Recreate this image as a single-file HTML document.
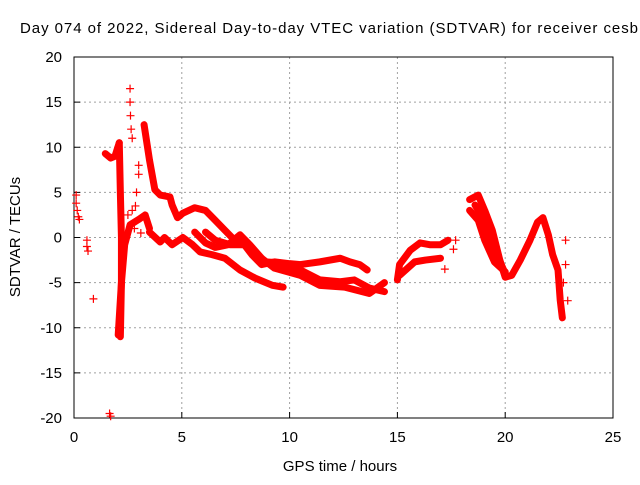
<!DOCTYPE html>
<html><head><meta charset="utf-8"><style>
body{margin:0;background:#fff}
svg text{font-family:"Liberation Sans",sans-serif;font-size:15px;fill:#000}
</style></head><body>
<svg id="chart" width="640" height="480" viewBox="0 0 640 480" xmlns="http://www.w3.org/2000/svg">
<rect width="640" height="480" fill="#fff"/>
<text x="20" y="33" textLength="618" lengthAdjust="spacing">Day 074 of 2022, Sidereal Day-to-day VTEC variation (SDTVAR) for receiver cesb</text>
<g id="grid"></g>
<g id="axes"></g>
<g id="series"></g>
<text x="340" y="471" text-anchor="middle">GPS time / hours</text>
<text transform="translate(20,237) rotate(-90)" text-anchor="middle">SDTVAR / TECUs</text>
</svg>
<script>
const xTicks=[0,5,10,15,20,25];
const yTicks=[-20,-15,-10,-5,0,5,10,15,20];
const trackA=[[3.25,12.5],[3.5,8.6],[3.75,5.3],[4.0,4.7],[4.45,4.5],[4.55,3.6],[4.8,2.2],[5.05,2.7],[5.6,3.3],[6.1,3.0],[6.55,1.9],[7.0,0.8],[7.45,-0.3],[7.9,-0.8],[8.25,-1.9],[8.7,-3.0],[9.3,-2.7],[10.0,-2.9],[10.5,-3.0],[11.4,-2.7],[12.35,-2.3],[12.8,-2.7],[13.25,-3.0],[13.6,-3.6]];
const trackB=[[3.5,0.6],[4.0,-0.5],[4.2,0],[4.55,-0.8],[5.05,0],[5.5,-0.8],[5.85,-1.6],[6.4,-1.9],[7.0,-2.3],[7.7,-3.6],[8.4,-4.5],[9.2,-5.3],[9.7,-5.5]];
const trackC=[[5.6,0.6],[6.1,-0.6],[6.55,-1.1],[7.15,-0.8],[7.7,0.3],[8.15,-0.8],[8.85,-2.7],[9.55,-2.8],[10.5,-3.6],[11.4,-4.7],[12.35,-4.9],[13.0,-4.7],[13.7,-5.6],[14.4,-6.0]];
const trackD=[[6.1,0.6],[6.55,-0.3],[7.25,-0.8],[8.05,-0.8],[8.7,-2.3],[9.3,-3.4],[10.5,-4.2],[11.4,-5.3],[12.55,-5.5],[13.7,-6.2],[14.4,-5.0]];
const trackE=[[2.05,-10.8],[2.2,-5],[2.35,-0.8],[2.6,1.4],[3.0,2.0],[3.3,2.5],[3.5,1.0]];
const trackE2=[[2.1,10.5],[2.15,5],[2.2,0],[2.2,-5],[2.15,-11]];
const trackE3=[[1.45,9.3],[1.7,8.8],[1.9,9.0],[2.1,10.5]];
const trackF=[[15.0,-4.7],[15.1,-3.0],[15.6,-1.4],[16.05,-0.6],[16.5,-0.8],[17.0,-0.8],[17.35,-0.3]];
const trackF2=[[15.1,-4.2],[15.8,-2.7],[16.3,-2.5],[17.0,-2.3]];
const trackG=[[18.35,4.2],[18.75,4.7],[19.05,3.0],[19.4,0.8],[19.75,-2.5],[20.0,-4.4],[20.3,-4.2],[20.7,-2.5],[21.15,-0.3],[21.5,1.7],[21.75,2.2],[22.0,0.3],[22.2,-1.9],[22.45,-3.6],[22.55,-6.9],[22.65,-8.9]];
const trackH=[[18.35,3.0],[18.75,1.9],[19.05,-0.3],[19.5,-2.7],[20.0,-3.8]];
const trackH2=[[18.6,3.6],[18.9,2.4],[19.2,0.8],[19.6,-1.8],[20.0,-4.0]];
const scatterT=[0.1,0.1,0.15,0.2,0.25,0.6,0.6,0.65,0.9,1.65,1.7,2.6,2.6,2.62,2.65,2.7,3.0,3.0,2.9,2.85,17.2,17.7,17.6,22.8,22.8,22.7,22.9,2.5,2.7,2.8,3.1];
const scatterV=[4.7,3.8,3.0,2.3,2.0,-0.3,-1.0,-1.5,-6.8,-19.5,-19.8,16.5,15.0,13.5,12.0,11.0,8.0,7.0,5.0,3.5,-3.5,-0.3,-1.3,-0.3,-3.0,-5.0,-7.0,2.5,3.0,1.0,0.5];
const tracks=[trackA,trackB,trackC,trackD,trackE,trackE2,trackE3,trackF,trackF2,trackG,trackH,trackH2];
const X0=74,X1=613,Y0=418,Y1=57;
const xs=t=>X0+(t-0)/25*(X1-X0);
const ys=v=>Y0-(v+20)/40*(Y0-Y1);
const NS='http://www.w3.org/2000/svg';
function mk(tag,parent,attrs){const e=document.createElementNS(NS,tag);for(const k in attrs)e.setAttribute(k,attrs[k]);parent.appendChild(e);return e;}
const grid=document.getElementById('grid'),axes=document.getElementById('axes'),ser=document.getElementById('series');
xTicks.forEach(t=>{const x=xs(t);
 if(t>0&&t<25){const l=mk('line',grid,{x1:x,x2:x,y1:Y1,y2:Y0,stroke:'#a0a0a0','stroke-dasharray':'2,3'});}
 const tk=mk('line',axes,{x1:x,x2:x,y1:Y0,y2:Y0-6,stroke:'#000'});
 const tx=mk('text',axes,{x:x,y:Y0+24,'text-anchor':'middle'});tx.textContent=t;});
yTicks.forEach(v=>{const y=ys(v);
 if(v>-20&&v<20){const l=mk('line',grid,{x1:X0,x2:X1,y1:y,y2:y,stroke:'#a0a0a0','stroke-dasharray':'2,3'});}
 const tk=mk('line',axes,{x1:X0,x2:X0+6,y1:y,y2:y,stroke:'#000'});
 const tx=mk('text',axes,{x:X0-12,y:y+5,'text-anchor':'end'});tx.textContent=v;});
const fr=mk('rect',axes,{x:X0,y:Y1,width:X1-X0,height:Y0-Y1,fill:'none',stroke:'#000'});

tracks.forEach(tr=>{const p=mk('polyline',ser,{points:tr.map(d=>xs(d[0])+','+ys(d[1])).join(' '),fill:'none',stroke:'#f00','stroke-width':7,'stroke-linejoin':'round','stroke-linecap':'round'});
 });
scatterT.forEach((t,i)=>{const x=xs(t),y=ys(scatterV[i]);
 const m=mk('path',ser,{d:`M${x-4},${y}H${x+4}M${x},${y-4}V${y+4}`,stroke:'#f00','stroke-width':1.2});
 });
</script>
</body></html>
